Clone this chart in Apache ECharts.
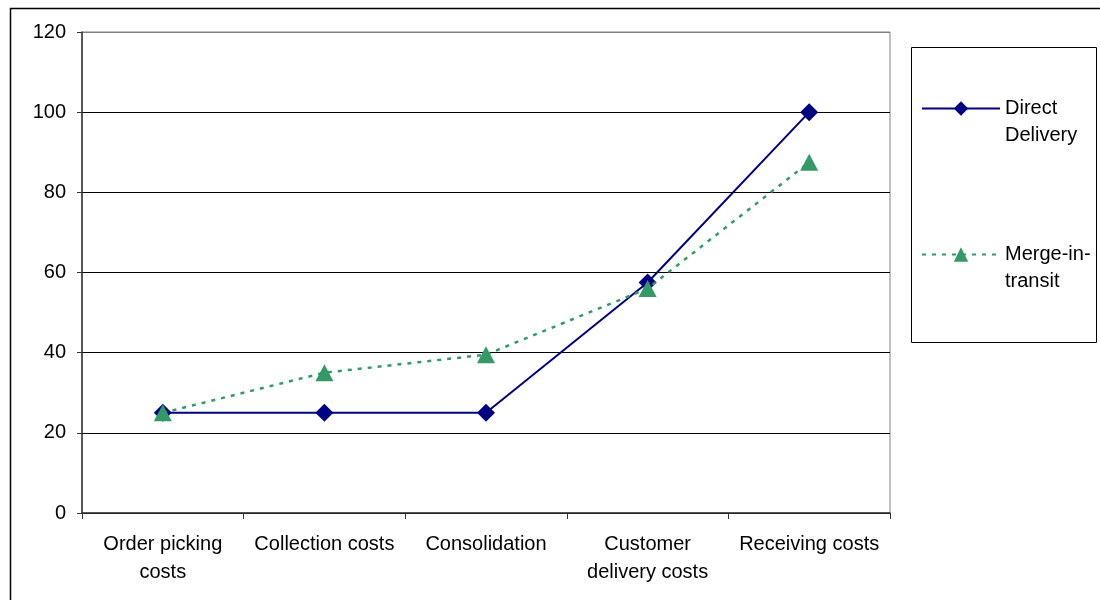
<!DOCTYPE html>
<html>
<head>
<meta charset="utf-8">
<script src="https://cdn.jsdelivr.net/npm/echarts@6/dist/echarts.min.js"></script>
<style>html,body{margin:0;padding:0;background:#fff;}#c{width:1100px;height:600px;}</style>
</head>
<body>
<div id="c"></div>
<script>
var categories = ['Order picking\ncosts', 'Collection costs', 'Consolidation', 'Customer\ndelivery costs', 'Receiving costs'];
var directDelivery = [25, 25, 25, 57.5, 100];
var mergeInTransit = [25, 35, 39.5, 56, 87.5];
var yTicks = [0, 20, 40, 60, 80, 100, 120];

var FONT = 'Arial, "Liberation Sans", sans-serif';
var chart = echarts.init(document.getElementById('c'), null, {renderer: 'canvas'});
chart.setOption({
  animation: false,
  backgroundColor: '#fff',
  textStyle: {fontFamily: FONT, color: '#000'},
  grid: {left: 82, right: 210, top: 32, bottom: 87, show: true, borderColor: '#808080', borderWidth: 1, containLabel: false},
  graphic: [
    {type: 'rect', shape: {x: 10.5, y: 8.5, width: 1200, height: 700}, style: {fill: 'none', stroke: '#000', lineWidth: 1.5}, z: -1},
    {type: 'rect', shape: {x: 911.5, y: 47.5, width: 185, height: 295}, style: {fill: '#fff', stroke: '#000', lineWidth: 1}, z: 1}
  ],
  legend: {
    orient: 'vertical',
    left: 921, top: 68,
    padding: 0,
    itemWidth: 78, itemHeight: 18,
    itemGap: 65,
    itemTextGap: 4,
    formatter: function (name) { return ' \n' + name; },
    textStyle: {fontFamily: FONT, fontSize: 20, color: '#000', lineHeight: 27},
    data: ['Direct\nDelivery', 'Merge-in-\ntransit'],
    z: 5
  },
  xAxis: {
    type: 'category',
    data: categories,
    boundaryGap: true,
    axisLine: {show: true, lineStyle: {color: '#333', width: 1.5}},
    axisTick: {show: true, alignWithLabel: false, length: 6, lineStyle: {color: '#333'}},
    axisLabel: {interval: 0, margin: 17, fontSize: 20, color: '#000', fontFamily: FONT, lineHeight: 28},
    splitLine: {show: false}
  },
  yAxis: {
    type: 'value',
    min: yTicks[0], max: yTicks[yTicks.length - 1], interval: 20,
    axisLine: {show: true, lineStyle: {color: '#333', width: 1.5}},
    axisTick: {show: true, length: 5, lineStyle: {color: '#333'}},
    axisLabel: {margin: 16, fontSize: 20, color: '#000', fontFamily: FONT, padding: [7, 0, 0, 0]},
    splitLine: {show: true, lineStyle: {color: ['#000', '#000', '#000', '#000', '#000', '#000', '#808080'], width: 1}}
  },
  series: [
    {
      name: 'Direct\nDelivery', type: 'line', data: directDelivery,
      symbol: 'diamond', symbolSize: 18,
      itemStyle: {color: '#000080'},
      lineStyle: {color: '#000080', width: 2},
      z: 3
    },
    {
      name: 'Merge-in-\ntransit', type: 'line', data: mergeInTransit,
      symbol: 'triangle', symbolSize: [18, 17],
      itemStyle: {color: '#339966'},
      lineStyle: {color: '#339966', width: 2.5, type: [4, 6]},
      z: 4
    }
  ]
});
</script>
</body>
</html>
